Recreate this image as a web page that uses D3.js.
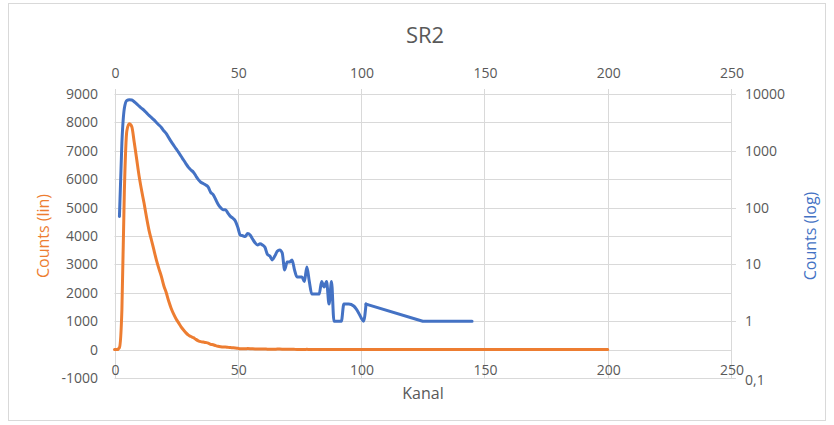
<!DOCTYPE html>
<html><head><meta charset="utf-8">
<script src="https://cdn.jsdelivr.net/npm/d3@7"></script>
<style>body{margin:0;background:#fff}svg{display:block}</style></head>
<body><svg id="c" width="834" height="425"></svg>
<script>
const chartTitle = "SR2";
const xTitle = "Kanal";
const linTitle = "Counts (lin)";
const logTitle = "Counts (log)";
const xTicks = [0, 50, 100, 150, 200, 250];
const linTicks = [-1000, 0, 1000, 2000, 3000, 4000, 5000, 6000, 7000, 8000, 9000];
const logTicks = [0.1, 1, 10, 100, 1000, 10000];
const logTickLabels = ["0,1", "1", "10", "100", "1000", "10000"];

// counts per channel 0..88
const counts = [0, 0, 70, 1400, 5600, 7700, 7950, 7850, 7300, 6700,
  6100, 5600, 5150, 4650, 4200, 3850, 3500, 3150, 2850, 2580,
  2250, 2000, 1700, 1450, 1250, 1080, 940, 800, 690, 590,
  510, 460, 420, 360, 310, 280, 265, 250, 230, 185,
  170, 140, 115, 100, 92, 92, 80, 70, 65, 58,
  45, 33, 32, 31, 35, 33, 28, 24, 22, 23,
  22, 20, 15, 14, 12, 14, 17, 18, 16, 8,
  11, 11, 12, 8, 6, 6, 6, 5, 9, 5,
  3, 3, 3, 3, 5, 4, 5, 2, 5];
// sparse tail of the spectrum
const tailChannels = [89, 90, 91, 92, 93, 95, 97, 99, 100, 101, 102];
const tailCounts = [1, 1, 1, 1, 2, 2, 1.85, 1.4, 1.15, 1, 2];
const farChannels = [102, 125, 145];
const farCounts = [2, 1, 1];
const linEndChannels = [200];
const linEndCounts = [0];

const colLin = "#ED7D31", colLog = "#4472C4";
const txt = "#595959", grid = "#d9d9d9";
const font = "'Open Sans', 'Noto Sans', sans-serif";

const svg = d3.select("#c");
svg.append("rect").attr("x", 8.5).attr("y", 3.5).attr("width", 817).attr("height", 417)
  .attr("fill", "#fff").attr("stroke", grid);

const L = 114.5, R = 731, T = 94, B = 378;
const x = d3.scaleLinear().domain([0, 250]).range([L, R]);
const yLin = d3.scaleLinear().domain([-1000, 9000]).range([B, T]);
const yLog = d3.scaleLog().domain([0.1, 10000]).range([B, T]);

// gridlines
svg.append("g").selectAll("line").data(linTicks).join("line")
  .attr("x1", L).attr("x2", R).attr("y1", d => Math.round(yLin(d)) + 0.5).attr("y2", d => Math.round(yLin(d)) + 0.5)
  .attr("stroke", grid).attr("stroke-width", 1);
svg.append("g").selectAll("line").data(xTicks).join("line")
  .attr("x1", d => Math.round(x(d)) + 0.5).attr("x2", d => Math.round(x(d)) + 0.5).attr("y1", T - 5).attr("y2", B)
  .attr("stroke", grid).attr("stroke-width", 1);
// right axis ticks
svg.append("g").selectAll("line").data(logTicks).join("line")
  .attr("x1", R).attr("x2", R + 5).attr("y1", d => Math.round(yLog(d)) + 0.5).attr("y2", d => Math.round(yLog(d)) + 0.5)
  .attr("stroke", grid);

// labels
const tg = svg.append("g").attr("font-family", font).attr("font-size", 14).attr("fill", txt);
tg.selectAll(".yl").data(linTicks).join("text")
  .attr("x", 98).attr("y", d => yLin(d)).attr("dy", "0.36em").attr("text-anchor", "end").text(d => d);
tg.selectAll(".yr").data(logTicks).join("text")
  .attr("x", 745).attr("y", (d, i) => yLog(d) + (i === 0 ? 2 : 0)).attr("dy", "0.36em").attr("text-anchor", "start").text((d, i) => logTickLabels[i]);
tg.selectAll(".xt").data(xTicks).join("text")
  .attr("x", d => x(d) + 1).attr("y", 73).attr("dy", "0.36em").attr("text-anchor", "middle").text(d => d);
tg.selectAll(".xb").data(xTicks).join("text")
  .attr("x", d => x(d) + 1).attr("y", 370).attr("dy", "0.36em").attr("text-anchor", "middle").text(d => d);

// titles
svg.append("text").attr("x", 425).attr("y", 35).attr("dy", "0.36em").attr("text-anchor", "middle")
  .attr("font-family", font).attr("font-size", 22).attr("fill", txt).text(chartTitle);
svg.append("text").attr("x", 423).attr("y", 393).attr("dy", "0.36em").attr("text-anchor", "middle")
  .attr("font-family", font).attr("font-size", 16).attr("fill", txt).text(xTitle);
svg.append("text").attr("transform", "translate(43,236) rotate(-90)").attr("dy", "0.36em").attr("text-anchor", "middle")
  .attr("font-family", font).attr("font-size", 16).attr("fill", colLin).text(linTitle);
svg.append("text").attr("transform", "translate(810,236) rotate(-90)").attr("dy", "0.36em").attr("text-anchor", "middle")
  .attr("font-family", font).attr("font-size", 16).attr("fill", colLog).text(logTitle);

// data
const main = counts.map((c, i) => ({ ch: i, v: c }));
const tail = tailChannels.map((c, i) => ({ ch: c, v: tailCounts[i] }));
const far = farChannels.map((c, i) => ({ ch: c, v: farCounts[i] }));
const linEnd = linEndChannels.map((c, i) => ({ ch: c, v: linEndCounts[i] }));
const linData = main.concat(tail, far.slice(1), linEnd);
const logData = main.concat(tail).filter(d => d.v > 0);

svg.append("path").datum(linData)
  .attr("d", d3.line().x(d => x(d.ch)).y(d => yLin(d.v)).curve(d3.curveMonotoneX))
  .attr("fill", "none").attr("stroke", colLin).attr("stroke-width", 3).attr("stroke-linejoin", "round").attr("stroke-linecap", "round");
svg.append("path").datum(logData)
  .attr("d", d3.line().x(d => x(d.ch)).y(d => yLog(d.v)).curve(d3.curveMonotoneX))
  .attr("fill", "none").attr("stroke", colLog).attr("stroke-width", 3).attr("stroke-linejoin", "round").attr("stroke-linecap", "round");
svg.append("path").datum(far)
  .attr("d", d3.line().x(d => x(d.ch)).y(d => yLog(d.v)))
  .attr("fill", "none").attr("stroke", colLog).attr("stroke-width", 3).attr("stroke-linejoin", "round").attr("stroke-linecap", "round");
</script></body></html>
